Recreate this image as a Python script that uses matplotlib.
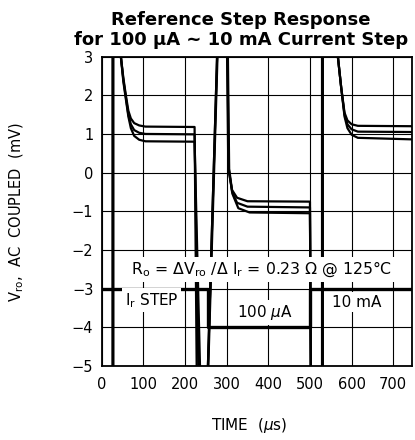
import numpy as np
import matplotlib
matplotlib.use("Agg")
import matplotlib.pyplot as plt

nan = np.nan

# ---- data (time in µs, voltage in mV) ----
# Vro traces (three temperatures); NaN = trace off-screen
vro_time = [26, 26, nan, 46, 52, 58, 64, 70, 78, 90, 105, 223, 228, nan,
            255, 277, nan, 301, 304, 313, 325, 350, 500, 502, nan,
            529, 529, nan, 567, 575, 583, 590, 600, 615, 745]
vro_top = [-5, 3, nan, 3.0, 2.45, 2.0, 1.6, 1.4, 1.28, 1.22, 1.19, 1.18, -5, nan,
           -5, 3, nan, 3, 0.1, -0.45, -0.65, -0.74, -0.75, -5, nan,
           -5, 3, nan, 3, 2.2, 1.55, 1.35, 1.25, 1.21, 1.2]
vro_mid_time = [27, 27, nan, 46, 52, 58, 64, 70, 78, 90, 105, 223, 232, nan,
                255, 277, nan, 302, 305, 313, 325, 350, 500, 502, nan,
                530, 530, nan, 567, 575, 583, 590, 600, 615, 745]
vro_mid = [-5, 3, nan, 3.0, 2.4, 1.95, 1.5, 1.25, 1.1, 1.03, 1.0, 0.99, -5, nan,
           -5, 3, nan, 3, 0.1, -0.5, -0.78, -0.88, -0.9, -5, nan,
           -5, 3, nan, 3, 2.2, 1.5, 1.25, 1.12, 1.06, 1.05]
vro_bot_time = [28, 28, nan, 46, 52, 58, 64, 70, 78, 90, 105, 223, 236, nan,
                256, 278, nan, 303, 306, 314, 328, 355, 500, 502, nan,
                531, 531, nan, 567, 575, 583, 590, 600, 615, 745]
vro_bot = [-5, 3, nan, 3.0, 2.35, 1.9, 1.45, 1.15, 0.95, 0.85, 0.81, 0.8, -5, nan,
           -5, 3, nan, 3, 0.1, -0.55, -0.92, -1.03, -1.05, -5, nan,
           -5, 3, nan, 3, 2.2, 1.45, 1.15, 0.98, 0.9, 0.86]

# Ir step trace
step_time = [0, 255, 255, 500, 500, 745]
step_level = [-3, -3, -4, -4, -3, -3]

x_ticks = [0, 100, 200, 300, 400, 500, 600, 700]
y_ticks = [-5, -4, -3, -2, -1, 0, 1, 2, 3]
y_tick_labels = ["\u22125", "\u22124", "\u22123", "\u22122", "\u22121", "0", "1", "2", "3"]

W, H = 415, 440
fig = plt.figure(figsize=(W / 100, H / 100), dpi=100)
ax = fig.add_axes([101.7 / W, 1 - 366 / H, (412 - 101.7) / W, (366 - 56.6) / H])
ax.set_xlim(0, 745)
ax.set_ylim(-5, 3)

ax.set_xticks(x_ticks)
ax.set_yticks(y_ticks)
ax.set_yticklabels(y_tick_labels)
ax.grid(True, color="black", linewidth=0.8)
ax.set_axisbelow(True)
ax.tick_params(length=0, labelsize=10.5, pad=6)
ax.tick_params(axis="x", pad=8)
for s in ax.spines.values():
    s.set_linewidth(1.3)

for tt, vv in [(vro_time, vro_top), (vro_mid_time, vro_mid), (vro_bot_time, vro_bot)]:
    ax.plot(tt, vv, color="black", linewidth=1.6, solid_capstyle="butt", zorder=3)
ax.plot(step_time, step_level, color="black", linewidth=2.4, solid_capstyle="butt", zorder=3)

box = dict(facecolor="white", edgecolor="none", pad=2.0)
ax.text(383, -2.5, r"R$_{\rm o}$ = $\Delta$V$_{\rm ro}$ /$\Delta$ I$_{\rm r}$ = 0.23 $\Omega$ @ 125°C",
        ha="center", va="center", fontsize=11.3, bbox=box, zorder=4)
ax.text(56, -3.3, r"I$_{\rm r}$ STEP", ha="left", va="center", fontsize=11, bbox=box, zorder=4)
ax.text(392, -3.62, r"100 $\mu$A", ha="center", va="center", fontsize=11, bbox=box, zorder=4)
ax.text(613, -3.35, "10 mA", ha="center", va="center", fontsize=11, bbox=box, zorder=4)

fig.text(241 / W, 1 - 25 / H, "Reference Step Response", ha="center", va="baseline",
         fontsize=13, fontweight="bold")
fig.text(241 / W, 1 - 45 / H, "for 100 µA ~ 10 mA Current Step", ha="center", va="baseline",
         fontsize=13, fontweight="bold")

fig.text(249 / W, 1 - 425 / H, r"TIME  ($\mu$s)", ha="center", va="center", fontsize=11)
fig.text(17 / W, 1 - 212 / H, r"V$_{\rm ro}$,  AC  COUPLED  (mV)", ha="center", va="center",
         rotation=90, fontsize=10.5)

fig.savefig("out.png", dpi=100)
